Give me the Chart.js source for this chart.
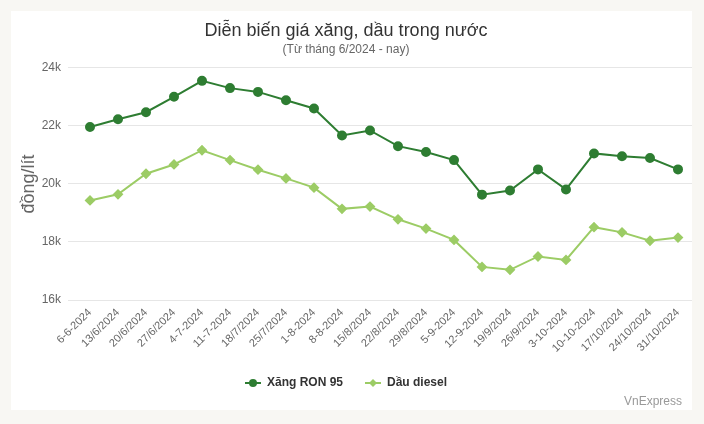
<!DOCTYPE html>
<html>
<head>
<meta charset="utf-8">
<script src="https://cdn.jsdelivr.net/npm/chart.js@4.4.1/dist/chart.umd.min.js"></script>
<style>
body{margin:0;background:#f8f7f3;font-family:"Liberation Sans",Arial,sans-serif}
#wrap{position:relative;width:704px;height:424px;overflow:hidden}
#panel{position:absolute;left:11px;top:11px;width:681px;height:399px;background:#fff}
#wrap canvas{position:absolute;left:0;top:0}
#credit{position:absolute;right:22px;top:394px;font-size:12px;color:#999}
</style>
</head>
<body>
<div id="wrap">
  <div id="panel"></div>
  <canvas class="line" width="704" height="424"></canvas>
  <div id="credit">VnExpress</div>
</div>
<script>
const dates = ['6-6-2024','13/6/2024','20/6/2024','27/6/2024','4-7-2024','11-7-2024','18/7/2024','25/7/2024','1-8-2024','8-8-2024','15/8/2024','22/8/2024','29/8/2024','5-9-2024','12-9-2024','19/9/2024','26/9/2024','3-10-2024','10-10-2024','17/10/2024','24/10/2024','31/10/2024'];
const ron95 = [21960,22230,22470,23000,23550,23300,23170,22880,22600,21670,21840,21300,21100,20820,19630,19770,20500,19810,21050,20950,20890,20500];
const diesel = [19430,19640,20350,20670,21160,20820,20490,20190,19870,19140,19220,18780,18460,18070,17140,17040,17500,17380,18510,18330,18040,18150];
const seriesNames = ['Xăng RON 95','Dầu diesel'];

const darkGreen = '#2e7d32';
const lightGreen = '#9ccc65';

// legend symbol: short line with the marker in the middle
function legendIcon(color, shape) {
  const c = document.createElement('canvas');
  c.width = 16; c.height = 10;
  const g = c.getContext('2d');
  g.strokeStyle = color; g.fillStyle = color; g.lineWidth = 2;
  g.beginPath(); g.moveTo(0, 5); g.lineTo(16, 5); g.stroke();
  g.beginPath();
  if (shape === 'circle') {
    g.arc(8, 5, 4, 0, Math.PI * 2);
  } else {
    g.moveTo(8, 1); g.lineTo(12, 5); g.lineTo(8, 9); g.lineTo(4, 5); g.closePath();
  }
  g.fill();
  return c;
}
const icons = [legendIcon(darkGreen, 'circle'), legendIcon(lightGreen, 'diamond')];

const ctx = document.querySelector('.line').getContext('2d');

new Chart(ctx, {
  type: 'line',
  data: {
    labels: dates,
    datasets: [{
      label: seriesNames[0],
      data: ron95,
      borderColor: darkGreen,
      backgroundColor: darkGreen,
      borderWidth: 2,
      pointStyle: 'circle',
      pointRadius: 4,
      tension: 0
    }, {
      label: seriesNames[1],
      data: diesel,
      borderColor: lightGreen,
      backgroundColor: lightGreen,
      borderWidth: 2,
      pointStyle: 'rectRot',
      pointRadius: 4,
      tension: 0
    }]
  },
  options: {
    responsive: false,
    animation: false,
    layout: { padding: { top: 0, right: 12, bottom: 25, left: 0 } },
    plugins: {
      title: {
        display: true,
        text: 'Diễn biến giá xăng, dầu trong nước',
        color: '#333',
        font: { family: 'Liberation Sans', size: 18, weight: 'normal' },
        padding: { top: 20, bottom: 1 }
      },
      subtitle: {
        display: true,
        text: '(Từ tháng 6/2024 - nay)',
        color: '#666',
        font: { family: 'Liberation Sans', size: 12 },
        padding: { top: 0, bottom: 10.8 }
      },
      legend: {
        position: 'bottom',
        labels: {
          usePointStyle: true,
          pointStyleWidth: 16,
          padding: 22,
          color: '#333',
          font: { family: 'Liberation Sans', size: 12, weight: 'bold' },
          generateLabels: (chart) => {
            const items = Chart.defaults.plugins.legend.labels.generateLabels(chart);
            items.forEach((it, i) => { it.pointStyle = icons[i]; });
            return items;
          }
        }
      },
      tooltip: { enabled: false }
    },
    scales: {
      x: {
        offset: true,
        grid: { display: false, drawTicks: false },
        border: { display: false },
        ticks: {
          autoSkip: false,
          minRotation: 45,
          maxRotation: 45,
          padding: 6,
          color: '#666',
          font: { family: 'Liberation Sans', size: 11 }
        },
        afterFit: (scale) => { scale.height = 55; }
      },
      y: {
        min: 16000,
        max: 24000,
        ticks: {
          stepSize: 2000,
          padding: 7,
          color: '#666',
          font: { family: 'Liberation Sans', size: 12 },
          callback: (v) => (v / 1000) + 'k'
        },
        grid: { color: '#e6e6e6', tickLength: 8, drawTicks: true },
        border: { display: false },
        title: {
          display: true,
          text: 'đồng/lít',
          color: '#666',
          font: { family: 'Liberation Sans', size: 18 },
          padding: { top: 18 }
        },
        afterFit: (scale) => { scale.width = 76; }
      }
    }
  }
});
</script>
</body>
</html>
